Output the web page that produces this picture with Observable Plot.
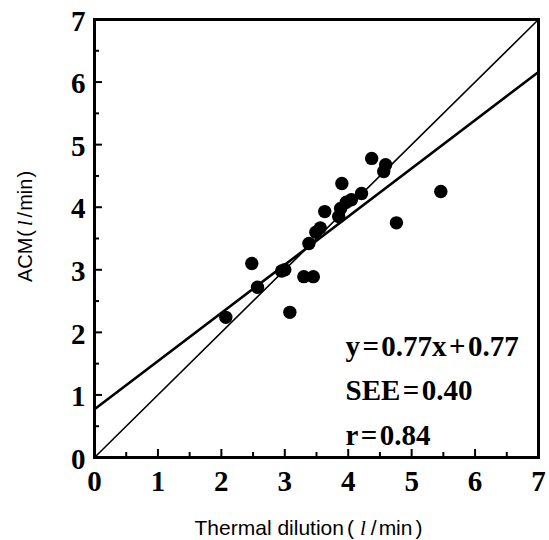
<!DOCTYPE html>
<html>
<head>
<meta charset="utf-8">
<script src="https://cdn.jsdelivr.net/npm/d3@7"></script>
<script src="https://cdn.jsdelivr.net/npm/@observablehq/plot@0.6"></script>
<style>
  html, body { margin: 0; padding: 0; background: #fff; }
</style>
</head>
<body>
<div id="chart"></div>
<script>
// Data (Thermal dilution vs ACM, l/min)
const thermal = [2.07, 2.48, 2.57, 2.95, 3.0, 3.08, 3.30, 3.45, 3.38, 3.49, 3.56, 3.63, 3.85, 3.88, 3.90, 3.97, 4.05, 4.21, 4.37, 4.56, 4.59, 4.76, 5.46];
const acm     = [2.24, 3.10, 2.72, 2.98, 3.0, 2.32, 2.89, 2.89, 3.42, 3.60, 3.67, 3.93, 3.85, 3.98, 4.38, 4.08, 4.12, 4.22, 4.78, 4.57, 4.68, 3.75, 4.25];

const axisDomain = [0, 7];
const majorTicks = [0, 1, 2, 3, 4, 5, 6, 7];
const minorTicks = [0.5, 1.5, 2.5, 3.5, 4.5, 5.5, 6.5];

const slope = 0.77;
const intercept = 0.77;
const statLines = ["y\u200A=\u200A0.77x\u200A+\u200A0.77", "SEE\u200A=\u200A0.40", "r\u200A=\u200A0.84"];

const xLabel = "Thermal dilution(l/min)";
const yLabel = "ACM(l/min)";

const points = thermal.map((t, i) => ({x: t, y: acm[i]}));
const identity = axisDomain.map(v => ({x: v, y: v}));
const regression = axisDomain.map(v => ({x: v, y: slope * v + intercept}));

const W = 549, H = 540;
const mL = 94, mR = 11, mT = 19, mB = 83;
const fw = W - mL - mR, fh = H - mT - mB;
const serif = "'Liberation Serif', 'Times New Roman', serif";
const sans = "'Liberation Sans', Arial, sans-serif";

const chart = Plot.plot({
  width: W,
  height: H,
  marginLeft: mL, marginRight: mR, marginTop: mT, marginBottom: mB,
  style: {background: "#fff", color: "#000"},
  x: {domain: axisDomain, axis: null},
  y: {domain: axisDomain, axis: null},
  marks: [
    // tick labels
    Plot.axisX({ticks: majorTicks, tickFormat: d3.format("d"), tickSize: 0, tickPadding: 13, fontSize: 29, fontWeight: "bold", fontFamily: serif, label: null}),
    Plot.axisY({ticks: majorTicks, tickFormat: d3.format("d"), tickSize: 0, tickPadding: 9, dy: 2, fontSize: 29, fontWeight: "bold", fontFamily: serif, label: null}),
    // inward ticks
    Plot.tickX(majorTicks, {x: d => d, insetTop: fh - 8, stroke: "#000", strokeWidth: 2}),
    Plot.tickX(minorTicks, {x: d => d, insetTop: fh - 5, stroke: "#000", strokeWidth: 2}),
    Plot.tickY(majorTicks, {y: d => d, insetRight: fw - 8, stroke: "#000", strokeWidth: 2}),
    Plot.tickY(minorTicks, {y: d => d, insetRight: fw - 5, stroke: "#000", strokeWidth: 2}),
    // lines
    Plot.line(identity, {x: "x", y: "y", stroke: "#000", strokeWidth: 1.6}),
    Plot.line(regression, {x: "x", y: "y", stroke: "#000", strokeWidth: 2.6}),
    // points
    Plot.dot(points, {x: "x", y: "y", r: 6.7, fill: "#000", stroke: "none"}),
    // frame
    Plot.frame({stroke: "#000", strokeWidth: 3}),
    // statistics annotation
    Plot.text([statLines.join("\n")], {
      frameAnchor: "bottom-left", dx: 251, dy: -13, lineAnchor: "bottom",
      textAnchor: "start", lineHeight: 1.53, fontSize: 29, fontWeight: "bold", fontFamily: serif, fill: "#000"
    }),
    // axis titles
    Plot.text([xLabel], {frameAnchor: "bottom", dx: -8, dy: 71, lineAnchor: "middle", textAnchor: "middle", fontSize: 21, fontFamily: sans, fill: "#000"}),
    Plot.text([yLabel], {frameAnchor: "left", dx: -69, dy: -12, rotate: -90, lineAnchor: "middle", textAnchor: "middle", fontSize: 20, fontFamily: sans, fill: "#000"})
  ]
});

// italic "l" inside the unit labels, with the spacing of the reference
function styleUnit(t, s, gaps) {
  const i = s.indexOf("(l/");
  const parts = [s.slice(0, i), "(", "l", "/", "min", ")"];
  while (t.firstChild) t.removeChild(t.firstChild);
  parts.forEach((p, k) => {
    const ts = document.createElementNS("http://www.w3.org/2000/svg", "tspan");
    ts.textContent = p;
    if (gaps[k]) ts.setAttribute("dx", gaps[k]);
    if (k === 2) { ts.setAttribute("font-style", "italic"); ts.setAttribute("font-family", serif); }
    t.appendChild(ts);
  });
}
chart.querySelectorAll("text").forEach(t => {
  const s = t.textContent;
  if (s === xLabel) styleUnit(t, s, [0, 3, 6, 5, 2, 3]);
  else if (s === yLabel) styleUnit(t, s, [0, 1, 4, 3, 1, 1]);
});

document.getElementById("chart").appendChild(chart);
</script>
</body>
</html>
